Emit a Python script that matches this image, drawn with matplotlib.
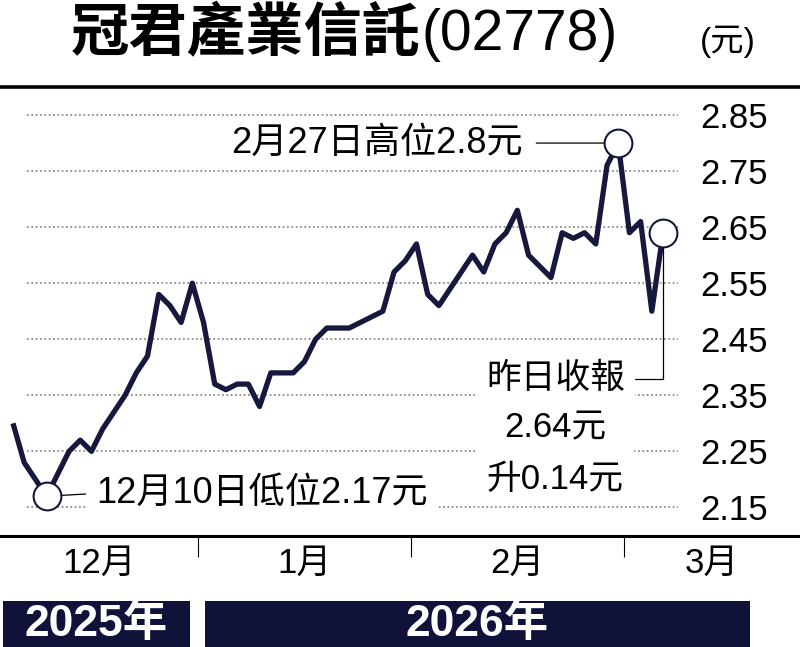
import matplotlib
matplotlib.use("Agg")
import matplotlib.pyplot as plt
from matplotlib.patches import Rectangle
import numpy as np

plt.rcParams['font.family'] = ['Liberation Sans', 'Noto Sans CJK TC']

# daily closing prices (HKD), one value per trading day
prices = [2.30, 2.23, 2.20, 2.17, 2.21, 2.25, 2.27, 2.25, 2.29, 2.32,
          2.35, 2.39, 2.42, 2.53, 2.51, 2.48, 2.55, 2.48, 2.37, 2.36,
          2.37, 2.37, 2.33, 2.39, 2.39, 2.39, 2.41, 2.45, 2.47, 2.47,
          2.47, 2.48, 2.49, 2.50, 2.57, 2.59, 2.62, 2.53, 2.51, 2.54,
          2.57, 2.60, 2.57, 2.62, 2.64, 2.68, 2.60, 2.58, 2.56, 2.64,
          2.63, 2.64, 2.62, 2.76, 2.80, 2.64, 2.66, 2.50, 2.64]
months = ['12月', '1月', '2月', '3月']
month_start = [0, 17, 36, 55]      # index of first trading day of each month
yticks = [2.15, 2.25, 2.35, 2.45, 2.55, 2.65, 2.75, 2.85]
years = ['2025年', '2026年']

low_idx = 3
high_idx = 54
last_idx = len(prices) - 1

NAVY = '#16183d'
BOX = '#10123a'


def main():
    fig = plt.figure(figsize=(8, 6.47), dpi=100)
    fig.patch.set_facecolor('white')
    W, H = 800, 647

    ax = fig.add_axes([0, 111 / H, 1, 449 / H])
    x = np.arange(len(prices))
    ax.set_xlim(-1.16, 70.22)
    ax.set_ylim(2.099, 2.900)

    # frame: only heavy top and bottom rules
    for side in ['left', 'right']:
        ax.spines[side].set_visible(False)
    ax.spines['top'].set_linewidth(2.6)
    ax.spines['bottom'].set_linewidth(2.2)

    # dotted gridlines
    ax.hlines(yticks, 0.034, 0.8475, transform=ax.get_yaxis_transform(),
              colors='#8c8c8c', linestyles=(0, (1, 1.4)), lw=1.3, zorder=1)

    # price line and markers
    ax.plot(x, prices, color=NAVY, lw=3.8, zorder=4, solid_capstyle='butt')
    ax.scatter([low_idx, high_idx, last_idx],
               [prices[low_idx], prices[high_idx], prices[last_idx]],
               s=400, facecolor='white', edgecolor=NAVY, lw=1.5, zorder=5)

    # y labels on the right, inside the frame
    ax.set_yticks(yticks)
    ax.set_yticklabels([f'{t:.2f}' for t in yticks])
    ax.tick_params(axis='y', left=False, labelleft=False, right=False,
                   labelright=True, pad=-75, labelsize=25)

    # month boundaries and month names
    bounds = [s - 0.5 for s in month_start[1:]]
    xmin, xmax = ax.get_xlim()
    edges = [xmin] + bounds + [xmax]
    centers = [(a + b) / 2 for a, b in zip(edges[:-1], edges[1:])]
    ax.set_xticks(bounds)
    ax.set_xticklabels([])
    ax.set_xticks(centers, labels=months, minor=True)
    ax.tick_params(axis='x', which='major', length=15, width=0.8,
                   direction='out', color='black')
    ax.tick_params(axis='x', which='minor', length=0, pad=8, labelsize=25)

    line_kw = dict(arrowstyle='-', color='black', lw=0.9, shrinkA=0, shrinkB=0)
    white_box = dict(boxstyle='square,pad=0.3', fc='white', ec='none')

    ax.annotate('2月27日高位2.8元', xy=(high_idx, prices[high_idx]),
                xytext=(-69, 0), textcoords='offset points',
                ha='right', va='center', fontsize=26, zorder=3,
                arrowprops=dict(line_kw, shrinkA=8, relpos=(1, 0.5)))

    ax.annotate('12月10日低位2.17元', xy=(low_idx, prices[low_idx]),
                xytext=(36, 2), textcoords='offset points',
                ha='left', va='center', fontsize=26, zorder=3, bbox=white_box,
                arrowprops=dict(line_kw, relpos=(0, 0.5)))

    ax.annotate('昨日收報', xy=(last_idx, prices[last_idx]),
                xytext=(-77.5, -105), textcoords='offset points',
                ha='center', va='center', fontsize=25, zorder=3, bbox=white_box,
                arrowprops=dict(line_kw, relpos=(1, 0.5),
                                connectionstyle='angle,angleA=0,angleB=90,rad=0'))
    ax.annotate('2.64元\n升0.14元', xy=(last_idx, prices[last_idx]),
                xytext=(-77.5, -159), textcoords='offset points',
                ha='center', va='center', fontsize=25, zorder=3,
                multialignment='center', linespacing=1.7, bbox=white_box)

    # year bars
    spans = [(3, 190), (205, 750)]
    for label, (a, b) in zip(years, spans):
        fig.patches.append(Rectangle((a / W, 0), (b - a) / W, 46 / H,
                                     transform=fig.transFigure,
                                     fc=BOX, ec='none'))
        fig.text((a + b) / 2 / W, 1 - 624 / H, label, color='white',
                 fontsize=32, weight='bold', ha='center', va='center')

    # title: bold Chinese name, lighter stock code
    t1 = fig.text(71 / W, 1 - 35 / H, '冠君產業信託', fontsize=42,
                  weight='bold', ha='left', va='center')
    ax.annotate('(02778)', xy=(1, 0.5), xycoords=t1, ha='left', va='center',
                fontsize=41, annotation_clip=False)
    fig.text(728 / W, 1 - 42 / H, '(元)', fontsize=24, ha='center', va='center')

    fig.savefig('out.png', dpi=100, facecolor='white')


if __name__ == '__main__':
    main()
